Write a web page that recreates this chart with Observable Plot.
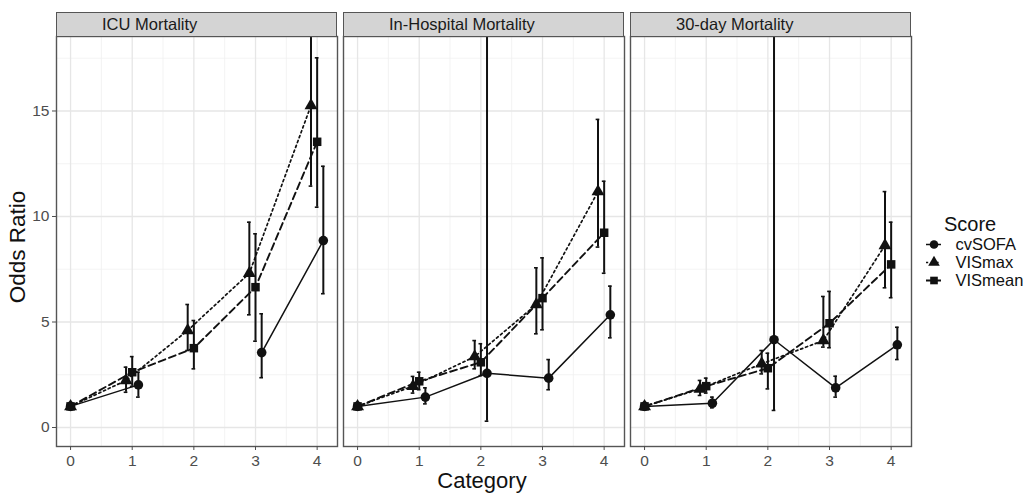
<!DOCTYPE html>
<html><head><meta charset="utf-8">
<script src="https://cdn.jsdelivr.net/npm/d3@7"></script>
<script src="https://cdn.jsdelivr.net/npm/@observablehq/plot@0.6"></script>
<style>
body{margin:0;background:#fff;font-family:"Liberation Sans",Arial,sans-serif;}
#root{position:relative;width:1027px;height:493px;overflow:hidden;background:#fff;}
.strip{position:absolute;box-sizing:border-box;border:1.4px solid #555;background:#d4d4d4;font-size:16.5px;color:#1a1a1a;white-space:nowrap;}
.abs{position:absolute;white-space:nowrap;color:#111;line-height:1;}
svg{overflow:visible;}
</style></head><body><div id="root"></div><script>
// ---------- data ----------
const panels = ["ICU Mortality", "In-Hospital Mortality", "30-day Mortality"];
const categories = [0, 1, 2, 3, 4];
const scores = ["cvSOFA", "VISmax", "VISmean"];
const yTicks = [0, 5, 10, 15];

// ICU Mortality
const icuCvsofaOR = [1, 2.02, null, 3.55, 8.86];
const icuCvsofaLo = [1, 1.44, null, 2.36, 6.34];
const icuCvsofaHi = [1, 2.62, null, 5.39, 12.38];
const icuVismaxOR = [1, 2.23, 4.60, 7.31, 15.26];
const icuVismaxLo = [1, 1.67, 3.65, 5.34, 11.44];
const icuVismaxHi = [1, 2.86, 5.83, 9.73, 19.5];
const icuVismeanOR = [1, 2.62, 3.76, 6.65, 13.54];
const icuVismeanLo = [1, 1.95, 2.78, 4.09, 10.44];
const icuVismeanHi = [1, 3.36, 5.07, 9.18, 17.52];

// In-Hospital Mortality
const hospCvsofaOR = [1, 1.44, 2.57, 2.34, 5.34];
const hospCvsofaLo = [1, 1.12, 0.30, 1.79, 4.25];
const hospCvsofaHi = [1, 1.88, 20.0, 3.22, 6.70];
const hospVismaxOR = [1, 1.96, 3.36, 5.83, 11.18];
const hospVismaxLo = [1, 1.63, 2.78, 4.44, 8.55];
const hospVismaxHi = [1, 2.42, 4.12, 7.57, 14.60];
const hospVismeanOR = [1, 2.19, 3.09, 6.13, 9.23];
const hospVismeanLo = [1, 1.79, 2.46, 4.63, 7.31];
const hospVismeanHi = [1, 2.62, 3.97, 8.04, 11.67];

// 30-day Mortality
const d30CvsofaOR = [1, 1.15, 4.16, 1.88, 3.92];
const d30CvsofaLo = [1, 0.93, 0.81, 1.44, 3.22];
const d30CvsofaHi = [1, 1.44, 20.0, 2.43, 4.75];
const d30VismaxOR = [1, 1.83, 3.02, 4.12, 8.63];
const d30VismaxLo = [1, 1.52, 2.54, 3.81, 6.62];
const d30VismaxHi = [1, 2.23, 3.65, 6.21, 11.18];
const d30VismeanOR = [1, 1.96, 2.81, 4.94, 7.73];
const d30VismeanLo = [1, 1.63, 1.83, 3.78, 6.15];
const d30VismeanHi = [1, 2.34, 3.52, 6.45, 9.73];

// dodge offset of each score (cvSOFA right, VISmax left, VISmean centre)
const dodge = [0.1, -0.1, 0];

// ---------- layout ----------
const panelSeries = [
  [[icuCvsofaOR, icuCvsofaLo, icuCvsofaHi], [icuVismaxOR, icuVismaxLo, icuVismaxHi], [icuVismeanOR, icuVismeanLo, icuVismeanHi]],
  [[hospCvsofaOR, hospCvsofaLo, hospCvsofaHi], [hospVismaxOR, hospVismaxLo, hospVismaxHi], [hospVismeanOR, hospVismeanLo, hospVismeanHi]],
  [[d30CvsofaOR, d30CvsofaLo, d30CvsofaHi], [d30VismaxOR, d30VismaxLo, d30VismaxHi], [d30VismeanOR, d30VismeanLo, d30VismeanHi]]
];
const yDomain = [-0.9, 18.53];
const xDomain = [-0.228, 4.33];
const panelLefts = [56, 343, 630];
const panelW = 281, panelTop = 36, panelH = 410, stripTop = 12;
const dashes = [null, "2.2,3", "7,4"];
const widths = [1.5, 1.7, 1.9];
const symbols = ["circle", "triangle", "square"];
const FONT = "'Liberation Sans', Arial, sans-serif";

const root = document.getElementById("root");

function buildRows(series) {
  const out = [];
  series.forEach((s, si) => categories.forEach((c, ci) => {
    const or = s[0][ci], lo = s[1][ci], hi = s[2][ci];
    out.push({score: scores[si], si, cat: c, xp: c === 0 ? 0 : c + dodge[si],
      or: or == null ? NaN : or, lo: lo == null ? NaN : lo, hi: hi == null ? NaN : hi});
  }));
  return out;
}

const xMinor = categories.slice(0, -1).map(c => c + 0.5);
const yMinor = yTicks.map(t => t + 2.5);

panels.forEach((name, i) => {
  const rows = buildRows(panelSeries[i]);
  const first = i === 0;
  const mL = first ? 56 : 0;
  const bars = rows.filter(d => !isNaN(d.lo));
  const marks = [
    Plot.ruleY(yMinor, {stroke: "#f0f0f0", strokeWidth: 0.8}),
    Plot.ruleX(xMinor, {stroke: "#f0f0f0", strokeWidth: 0.8}),
    Plot.ruleY(yTicks, {stroke: "#e6e6e6", strokeWidth: 1.3}),
    Plot.ruleX(categories, {stroke: "#e6e6e6", strokeWidth: 1.3}),
  ];
  scores.forEach((sc, si) => {
    const opts = {x: "xp", y: "or", stroke: "#111", strokeWidth: widths[si]};
    if (dashes[si]) opts.strokeDasharray = dashes[si];
    marks.push(Plot.line(rows.filter(d => d.score === sc), opts));
  });
  marks.push(
    Plot.ruleX(bars, {x: "xp", y1: "lo", y2: d => Math.min(d.hi, yDomain[1]), stroke: "#111", strokeWidth: 2}),
    Plot.ruleY(bars.filter(d => d.hi < yDomain[1]), {y: "hi", x1: d => d.xp - 0.03, x2: d => d.xp + 0.03, stroke: "#111", strokeWidth: 1.6}),
    Plot.ruleY(bars, {y: "lo", x1: d => d.xp - 0.03, x2: d => d.xp + 0.03, stroke: "#111", strokeWidth: 1.6}),
    Plot.dot(rows.filter(d => !isNaN(d.or)), {x: "xp", y: "or", symbol: "score", fill: "#111", r: 4.8}),
    Plot.frame({stroke: "#555", strokeWidth: 1.4}),
    Plot.axisX(categories, {tickSize: 4, tickPadding: 4, fontSize: 15.5, color: "#4d4d4d", label: null})
  );
  if (first) marks.push(Plot.axisY(yTicks, {tickSize: 4, tickPadding: 3, fontSize: 15.5, color: "#4d4d4d", label: null}));
  const chart = Plot.plot({
    width: panelW + mL, height: panelH + 40,
    marginLeft: mL, marginRight: 0, marginTop: 0, marginBottom: 40,
    x: {domain: xDomain},
    y: {domain: yDomain, axis: first ? undefined : null},
    symbol: {domain: scores, range: symbols},
    style: {fontFamily: FONT, background: "transparent", overflow: "visible"},
    marks
  });
  chart.style.position = "absolute";
  chart.style.left = (panelLefts[i] - mL) + "px";
  chart.style.top = panelTop + "px";
  root.appendChild(chart);

  const strip = document.createElement("div");
  strip.className = "strip";
  strip.style.left = panelLefts[i] + "px";
  strip.style.top = stripTop + "px";
  strip.style.width = panelW + "px";
  strip.style.height = (panelTop - stripTop + 1) + "px";
  strip.style.lineHeight = (panelTop - stripTop - 1) + "px";
  strip.style.paddingLeft = "45px";
  strip.textContent = name;
  root.appendChild(strip);
});

// axis titles
const yTitle = document.createElement("div");
yTitle.className = "abs";
yTitle.textContent = "Odds Ratio";
Object.assign(yTitle.style, {fontSize: "22.5px", left: "18px", top: "247px", transform: "translate(-50%,-50%) rotate(-90deg)"});
root.appendChild(yTitle);

const xTitle = document.createElement("div");
xTitle.className = "abs";
xTitle.textContent = "Category";
Object.assign(xTitle.style, {fontSize: "22px", lineHeight: "0.9", left: "482px", top: "481px", transform: "translate(-50%,-50%)"});
root.appendChild(xTitle);

// legend
const legTitle = document.createElement("div");
legTitle.className = "abs";
legTitle.textContent = "Score";
Object.assign(legTitle.style, {fontSize: "20px", left: "944px", top: "214px"});
root.appendChild(legTitle);

const legMarks = [];
scores.forEach((sc, si) => {
  const o = {y: d => d, x1: 0, x2: 1, stroke: "#111", strokeWidth: widths[si]};
  if (dashes[si]) o.strokeDasharray = dashes[si];
  legMarks.push(Plot.ruleY([sc], o));
});
legMarks.push(
  Plot.dot(scores, {x: 0.5, y: d => d, symbol: d => d, fill: "#111", r: 4.3}),
  Plot.text(scores, {x: 1, y: d => d, text: d => d, dx: 14, textAnchor: "start", fontSize: 16.5, fill: "#111"})
);
const legend = Plot.plot({
  width: 110, height: 60, margin: 0,
  x: {domain: [0, 1], range: [5, 20], axis: null},
  y: {type: "point", domain: scores, range: [10, 47], padding: 0, axis: null},
  symbol: {domain: scores, range: symbols},
  style: {fontFamily: FONT, background: "transparent", overflow: "visible"},
  marks: legMarks
});
legend.style.position = "absolute";
legend.style.left = "921px";
legend.style.top = "233px";
root.appendChild(legend);
</script></body></html>
